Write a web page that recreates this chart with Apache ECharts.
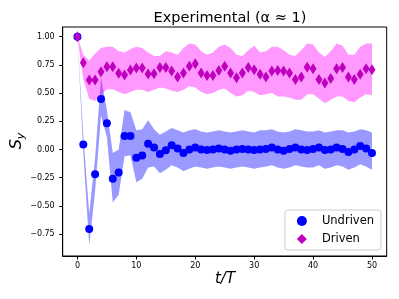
<!DOCTYPE html>
<html>
<head>
<meta charset="utf-8">
<script src="https://cdn.jsdelivr.net/npm/echarts@6/dist/echarts.min.js"></script>
<style>html,body{margin:0;padding:0;background:#fff}#c{width:399px;height:299px}</style>
</head>
<body>
<div id="c"></div>
<script>
// t/T values
const tVals = [0,1,2,3,4,5,6,7,8,9,10,11,12,13,14,15,16,17,18,19,20,21,22,23,24,25,26,27,28,29,30,31,32,33,34,35,36,37,38,39,40,41,42,43,44,45,46,47,48,49,50];
// Undriven mean
const undriven = [1.0,0.044,-0.705,-0.22,0.448,0.233,-0.26,-0.204,0.12,0.12,-0.074,-0.053,0.05,0.018,-0.04,-0.006,0.038,0.009,-0.03,0.0,0.018,0.0,-0.005,0.0,0.01,0.0,-0.01,0.0,0.005,0.0,-0.005,0.0,0.005,0.018,0.0,-0.012,0.005,0.018,0.0,-0.005,0.005,0.018,-0.005,0.0,0.018,0.005,-0.021,0.0,0.032,0.01,-0.03];
const undrivenUpper = [1.0,0.12,-0.57,-0.07,0.64,0.35,-0.03,0.0,0.35,0.33,0.17,0.18,0.26,0.18,0.13,0.16,0.19,0.17,0.15,0.17,0.18,0.16,0.15,0.16,0.17,0.16,0.15,0.16,0.17,0.16,0.15,0.17,0.17,0.18,0.16,0.15,0.16,0.18,0.17,0.16,0.16,0.17,0.15,0.16,0.17,0.17,0.15,0.16,0.18,0.17,0.15];
const undrivenLower = [1.0,-0.03,-0.85,-0.37,0.30,0.11,-0.47,-0.40,-0.06,-0.05,-0.29,-0.26,-0.16,-0.15,-0.21,-0.18,-0.14,-0.16,-0.19,-0.17,-0.15,-0.16,-0.17,-0.16,-0.15,-0.16,-0.17,-0.16,-0.15,-0.16,-0.17,-0.16,-0.15,-0.14,-0.16,-0.17,-0.16,-0.14,-0.15,-0.16,-0.16,-0.14,-0.17,-0.16,-0.14,-0.15,-0.18,-0.16,-0.13,-0.15,-0.18];
// Driven mean
const driven = [1.0,0.77,0.616,0.616,0.69,0.734,0.734,0.675,0.66,0.705,0.722,0.722,0.67,0.672,0.726,0.726,0.696,0.643,0.678,0.737,0.761,0.678,0.657,0.657,0.70,0.737,0.678,0.637,0.678,0.726,0.708,0.667,0.643,0.696,0.70,0.696,0.678,0.62,0.643,0.73,0.716,0.62,0.59,0.63,0.716,0.726,0.643,0.62,0.667,0.716,0.708];
const drivenUpper = [1.0,0.84,0.79,0.85,0.90,0.91,0.91,0.87,0.86,0.89,0.91,0.90,0.86,0.83,0.83,0.87,0.86,0.84,0.90,0.94,0.93,0.87,0.84,0.86,0.91,0.93,0.90,0.84,0.83,0.88,0.92,0.86,0.87,0.91,0.91,0.88,0.84,0.83,0.88,0.94,0.93,0.86,0.82,0.87,0.94,0.92,0.84,0.84,0.91,0.94,0.94];
const drivenLower = [1.0,0.62,0.45,0.43,0.49,0.535,0.535,0.51,0.49,0.51,0.53,0.53,0.51,0.53,0.55,0.54,0.52,0.51,0.53,0.56,0.55,0.51,0.49,0.50,0.53,0.54,0.50,0.47,0.48,0.52,0.51,0.48,0.49,0.50,0.47,0.47,0.46,0.44,0.44,0.49,0.49,0.45,0.41,0.44,0.47,0.47,0.43,0.42,0.46,0.49,0.48];
// tick labels
const xTicks = [0,10,20,30,40,50];
const yTicks = [-0.75,-0.5,-0.25,0,0.25,0.5,0.75,1.0];

const chart = echarts.init(document.getElementById('c'), null, {renderer:'canvas'});
const FONT = 'DejaVu Sans';

function bandSeries(name, upper, lower, color, z) {
  return {
    type: 'custom', name: name, z: z, silent: true,
    data: tVals.map((t,i)=>[t, lower[i], upper[i]]),
    renderItem: function(params, api) {
      if (params.dataIndex !== 0) return null;
      const pts = [];
      for (let i = 0; i < tVals.length; i++) pts.push(api.coord([tVals[i], upper[i]]));
      for (let i = tVals.length - 1; i >= 0; i--) pts.push(api.coord([tVals[i], lower[i]]));
      return { type: 'polygon', shape: { points: pts }, style: { fill: color, lineWidth: 0 } };
    },
    encode: { x: 0, y: [1,2] }
  };
}

const option = {
  animation: false,
  backgroundColor: '#fff',
  title: {
    text: 'Experimental (α ≈ 1)', left: 225, top: 6, textAlign: 'center',
    textStyle: { fontFamily: FONT, fontSize: 14.5, fontWeight: 'normal', color: '#000' }
  },
  grid: { left: 62.7, right: 12.3, top: 27, bottom: 43, show: true, borderColor: '#000', borderWidth: 1, backgroundColor: 'transparent' },
  xAxis: {
    type: 'value', min: -2.5, max: 52.5,
    axisLine: { show: true, onZero: false, lineStyle: { color: '#000', width: 1 } },
    axisTick: { show: true, length: 3.5, customValues: xTicks, lineStyle: { color: '#000' } },
    axisLabel: { customValues: xTicks, fontFamily: FONT, fontSize: 8, color: '#000', margin: 6 },
    splitLine: { show: false }
  },
  yAxis: {
    type: 'value', min: -0.944, max: 1.086,
    axisLine: { show: true, onZero: false, lineStyle: { color: '#000', width: 1 } },
    axisTick: { show: true, length: 3.5, customValues: yTicks, lineStyle: { color: '#000' } },
    axisLabel: { customValues: yTicks, fontFamily: FONT, fontSize: 8, color: '#000', margin: 8,
      formatter: v => (v < 0 ? '\u2212' + Math.abs(v).toFixed(2) : v.toFixed(2)) },
    splitLine: { show: false }
  },
  legend: {
    right: 18, bottom: 49, orient: 'vertical', itemGap: 6,
    itemWidth: 10, itemHeight: 10,
    backgroundColor: '#fff', borderColor: '#ccc', borderWidth: 1, borderRadius: 3,
    padding: [5, 7, 5, 12],
    textStyle: { fontFamily: FONT, fontSize: 11.5, color: '#000', padding: [0,0,0,10] },
    data: [
      { name: 'Undriven', icon: 'circle', itemStyle: { color: '#0000ff' } },
      { name: 'Driven', icon: 'diamond', itemStyle: { color: '#bf00bf' } }
    ]
  },
  graphic: [
    { type: 'text', x: 17, y: 141, rotation: Math.PI/2, style: {
      text: '{s|S}{sub|y}', align: 'center', verticalAlign: 'middle',
      rich: { s: { fontFamily: FONT, fontStyle: 'italic', fontSize: 16, color: '#000' },
              sub: { fontFamily: FONT, fontStyle: 'italic', fontSize: 11, color: '#000', padding: [8,0,0,0] } } } },
    { type: 'text', x: 225, y: 279, style: {
      text: 't/T', align: 'center', verticalAlign: 'middle',
      fontFamily: FONT, fontStyle: 'italic', fontSize: 15, fill: '#000' } }
  ],
  series: [
    bandSeries('UndrivenBand', undrivenUpper, undrivenLower, 'rgba(0,0,255,0.4)', 1),
    { type: 'scatter', name: 'Undriven', z: 2, symbol: 'circle', symbolSize: 8,
      itemStyle: { color: '#0000ff', opacity: 1 },
      data: tVals.map((t,i)=>[t, undriven[i]]) },
    bandSeries('DrivenBand', drivenUpper, drivenLower, 'rgba(255,0,255,0.4)', 3),
    { type: 'scatter', name: 'Driven', z: 4, symbol: 'diamond', symbolSize: [7,11],
      itemStyle: { color: '#bf00bf', opacity: 1 },
      data: tVals.map((t,i)=>[t, driven[i]]) }
  ]
};
chart.setOption(option);
</script>
</body>
</html>
